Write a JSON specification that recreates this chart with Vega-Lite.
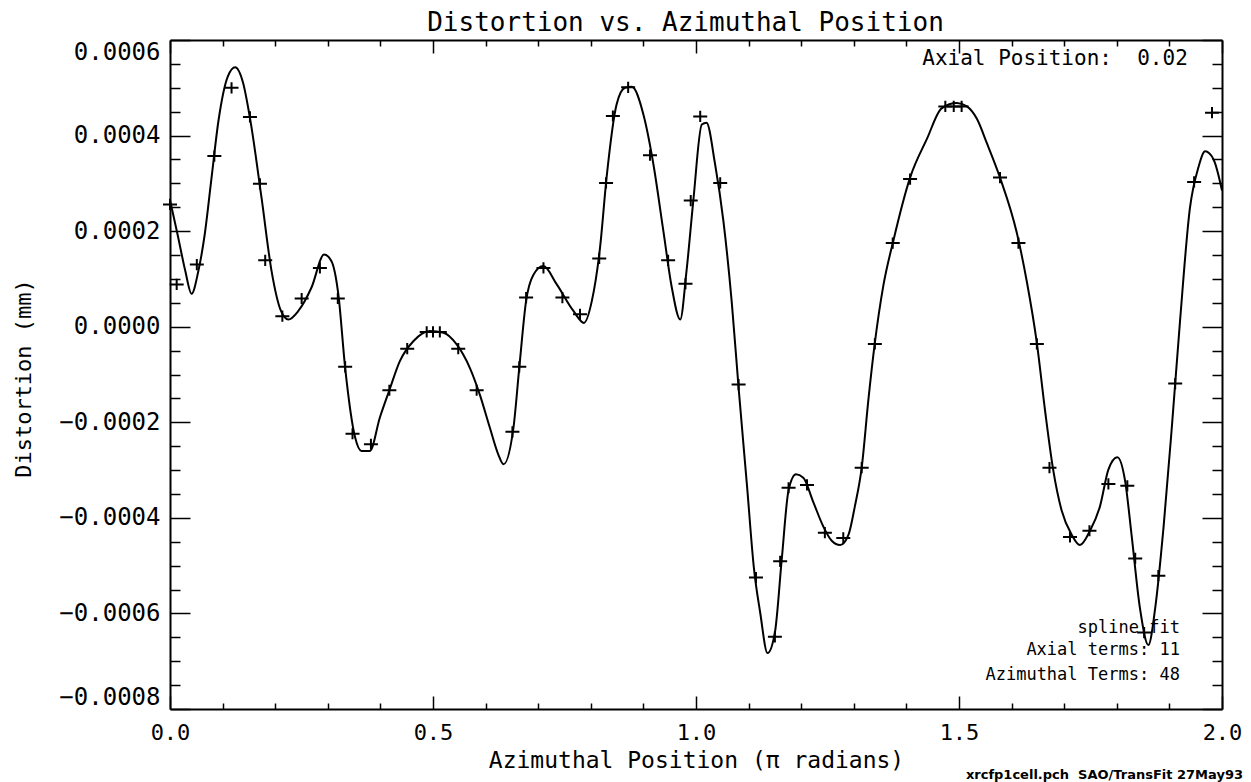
{
  "$schema": "https://vega.github.io/schema/vega-lite/v6.json",
  "width": 1052,
  "height": 669,
  "autosize": {"type": "none"},
  "padding": {"left": 170, "top": 40, "right": 29, "bottom": 73},
  "background": "white",
  "config": {
    "view": {"stroke": null},
    "axis": {
      "grid": false,
      "domainColor": "black",
      "domainWidth": 2,
      "tickColor": "black",
      "tickWidth": 1.5,
      "labelColor": "black",
      "titleColor": "black",
      "labelFont": "DejaVu Sans Mono",
      "titleFont": "DejaVu Sans Mono",
      "titleFontWeight": "normal",
      "labelOverlap": false,
      "labelBound": false
    },
    "text": {"font": "DejaVu Sans Mono", "color": "black"}
  },
  "datasets": {
    "fit": [
      {"x": 0.000, "y": 0.000265}, {"x": 0.015, "y": 0.000190}, {"x": 0.029, "y": 0.000117}, {"x": 0.041, "y": 0.000069},
      {"x": 0.054, "y": 0.000117}, {"x": 0.066, "y": 0.000193}, {"x": 0.079, "y": 0.000312}, {"x": 0.092, "y": 0.000430},
      {"x": 0.110, "y": 0.000524}, {"x": 0.124, "y": 0.000543}, {"x": 0.139, "y": 0.000510}, {"x": 0.152, "y": 0.000437},
      {"x": 0.174, "y": 0.000270}, {"x": 0.193, "y": 0.000117}, {"x": 0.211, "y": 0.000033}, {"x": 0.225, "y": 0.000015},
      {"x": 0.244, "y": 0.000033}, {"x": 0.269, "y": 0.000082}, {"x": 0.293, "y": 0.000151}, {"x": 0.307, "y": 0.000137},
      {"x": 0.320, "y": 0.000068}, {"x": 0.333, "y": -0.000086}, {"x": 0.352, "y": -0.000232}, {"x": 0.364, "y": -0.000260},
      {"x": 0.380, "y": -0.000260}, {"x": 0.399, "y": -0.000190}, {"x": 0.417, "y": -0.000133}, {"x": 0.437, "y": -0.000072},
      {"x": 0.463, "y": -0.000030}, {"x": 0.494, "y": -0.000009}, {"x": 0.520, "y": -0.0000125}, {"x": 0.545, "y": -0.000037},
      {"x": 0.570, "y": -0.000086}, {"x": 0.589, "y": -0.000142}, {"x": 0.608, "y": -0.000211}, {"x": 0.624, "y": -0.000267},
      {"x": 0.634, "y": -0.000288}, {"x": 0.653, "y": -0.000211}, {"x": 0.664, "y": -0.000086}, {"x": 0.677, "y": 0.000054},
      {"x": 0.691, "y": 0.000109}, {"x": 0.710, "y": 0.000127}, {"x": 0.735, "y": 0.000089}, {"x": 0.767, "y": 0.000033},
      {"x": 0.787, "y": 0.000008}, {"x": 0.802, "y": 0.000054}, {"x": 0.8175, "y": 0.000165}, {"x": 0.830, "y": 0.000312},
      {"x": 0.849, "y": 0.000465}, {"x": 0.865, "y": 0.000500}, {"x": 0.878, "y": 0.000502}, {"x": 0.900, "y": 0.000444},
      {"x": 0.919, "y": 0.000340}, {"x": 0.938, "y": 0.000200}, {"x": 0.954, "y": 0.000082}, {"x": 0.970, "y": 0.000015},
      {"x": 0.982, "y": 0.000117}, {"x": 0.995, "y": 0.000265}, {"x": 1.011, "y": 0.000423}, {"x": 1.020, "y": 0.000427},
      {"x": 1.036, "y": 0.000342}, {"x": 1.052, "y": 0.000222}, {"x": 1.068, "y": 0.000051}, {"x": 1.081, "y": -0.000128},
      {"x": 1.097, "y": -0.000333}, {"x": 1.110, "y": -0.000504}, {"x": 1.122, "y": -0.000598}, {"x": 1.136, "y": -0.000683},
      {"x": 1.150, "y": -0.000640}, {"x": 1.163, "y": -0.000487}, {"x": 1.176, "y": -0.000342}, {"x": 1.190, "y": -0.000309},
      {"x": 1.204, "y": -0.000316}, {"x": 1.223, "y": -0.000367}, {"x": 1.242, "y": -0.000418}, {"x": 1.258, "y": -0.000448},
      {"x": 1.274, "y": -0.000457}, {"x": 1.290, "y": -0.000435}, {"x": 1.302, "y": -0.000376}, {"x": 1.315, "y": -0.000295},
      {"x": 1.328, "y": -0.000150}, {"x": 1.340, "y": -0.000034}, {"x": 1.356, "y": 0.000085}, {"x": 1.375, "y": 0.000179},
      {"x": 1.407, "y": 0.000312}, {"x": 1.439, "y": 0.000393}, {"x": 1.467, "y": 0.000457}, {"x": 1.496, "y": 0.000468},
      {"x": 1.515, "y": 0.000461}, {"x": 1.534, "y": 0.000435}, {"x": 1.553, "y": 0.000384}, {"x": 1.578, "y": 0.000312},
      {"x": 1.610, "y": 0.000196}, {"x": 1.629, "y": 0.000094}, {"x": 1.648, "y": -0.000034}, {"x": 1.664, "y": -0.000179},
      {"x": 1.679, "y": -0.000299}, {"x": 1.695, "y": -0.000384}, {"x": 1.714, "y": -0.000435}, {"x": 1.730, "y": -0.000457},
      {"x": 1.749, "y": -0.000427}, {"x": 1.768, "y": -0.000376}, {"x": 1.784, "y": -0.000299}, {"x": 1.801, "y": -0.000273},
      {"x": 1.816, "y": -0.000324}, {"x": 1.828, "y": -0.000435}, {"x": 1.844, "y": -0.000589}, {"x": 1.860, "y": -0.000666},
      {"x": 1.873, "y": -0.000589}, {"x": 1.889, "y": -0.000418}, {"x": 1.905, "y": -0.000205}, {"x": 1.920, "y": 0.000009},
      {"x": 1.939, "y": 0.000248}, {"x": 1.955, "y": 0.000333}, {"x": 1.968, "y": 0.000367}, {"x": 1.984, "y": 0.000350},
      {"x": 2.000, "y": 0.000285}
    ],
    "obs": [
      {"x": 0.000, "y": 0.000256}, {"x": 0.0127, "y": 0.0000885}, {"x": 0.051, "y": 0.000130}, {"x": 0.0843, "y": 0.000357},
      {"x": 0.117, "y": 0.000500}, {"x": 0.152, "y": 0.000439}, {"x": 0.171, "y": 0.000299}, {"x": 0.181, "y": 0.000139},
      {"x": 0.2136, "y": 0.000022}, {"x": 0.2503, "y": 0.000059}, {"x": 0.285, "y": 0.000123}, {"x": 0.319, "y": 0.000059},
      {"x": 0.333, "y": -0.000084}, {"x": 0.347, "y": -0.000224}, {"x": 0.382, "y": -0.000246}, {"x": 0.417, "y": -0.000133},
      {"x": 0.451, "y": -0.000046}, {"x": 0.488, "y": -0.000011}, {"x": 0.500, "y": -0.000011}, {"x": 0.513, "y": -0.000011},
      {"x": 0.548, "y": -0.000046}, {"x": 0.583, "y": -0.000133}, {"x": 0.651, "y": -0.000220}, {"x": 0.664, "y": -0.000084},
      {"x": 0.677, "y": 0.000061}, {"x": 0.710, "y": 0.000123}, {"x": 0.746, "y": 0.000061}, {"x": 0.7795, "y": 0.000026},
      {"x": 0.816, "y": 0.000143}, {"x": 0.829, "y": 0.000301}, {"x": 0.842, "y": 0.000441}, {"x": 0.871, "y": 0.000501},
      {"x": 0.9125, "y": 0.000359}, {"x": 0.947, "y": 0.000139}, {"x": 0.980, "y": 0.000090}, {"x": 0.990, "y": 0.000264},
      {"x": 1.008, "y": 0.000440}, {"x": 1.046, "y": 0.000301}, {"x": 1.081, "y": -0.000121}, {"x": 1.114, "y": -0.000525},
      {"x": 1.150, "y": -0.000649}, {"x": 1.160, "y": -0.000491}, {"x": 1.176, "y": -0.000337}, {"x": 1.211, "y": -0.000331},
      {"x": 1.245, "y": -0.000431}, {"x": 1.280, "y": -0.000442}, {"x": 1.315, "y": -0.000295}, {"x": 1.340, "y": -0.000036},
      {"x": 1.374, "y": 0.000175}, {"x": 1.407, "y": 0.000309}, {"x": 1.474, "y": 0.000461}, {"x": 1.490, "y": 0.000461},
      {"x": 1.505, "y": 0.000461}, {"x": 1.578, "y": 0.000312}, {"x": 1.613, "y": 0.000175}, {"x": 1.648, "y": -0.000036},
      {"x": 1.672, "y": -0.000295}, {"x": 1.711, "y": -0.000440}, {"x": 1.748, "y": -0.000427}, {"x": 1.784, "y": -0.000329},
      {"x": 1.820, "y": -0.000333}, {"x": 1.835, "y": -0.000485}, {"x": 1.852, "y": -0.000640}, {"x": 1.879, "y": -0.000521},
      {"x": 1.911, "y": -0.000119}, {"x": 1.947, "y": 0.000303}, {"x": 1.981, "y": 0.000448}
    ],
    "note": [{}]
  },
  "layer": [
    {
      "data": {"name": "fit"},
      "mark": {"type": "line", "color": "black", "strokeWidth": 2, "interpolate": "monotone"},
      "encoding": {
        "x": {
          "field": "x", "type": "quantitative",
          "scale": {"domain": [0, 2], "nice": false, "zero": false},
          "axis": {
            "orient": "bottom",
            "values": [0, 0.1, 0.2, 0.3, 0.4, 0.5, 0.6, 0.7, 0.8, 0.9, 1.0, 1.1, 1.2, 1.3, 1.4, 1.5, 1.6, 1.7, 1.8, 1.9, 2.0],
            "format": ".1f",
            "labelExpr": "abs(datum.value*2 - round(datum.value*2)) < 0.001 ? datum.label : ''",
            "tickSize": {"condition": {"test": "abs(datum.value*2 - round(datum.value*2)) < 0.001", "value": -13}, "value": -6},
            "labelPadding": 26,
            "labelFontSize": 22,
            "labelFlush": false,
            "title": "Azimuthal Position (π radians)",
            "titleFontSize": 23,
            "titleBaseline": "alphabetic",
            "titleY": 58
          }
        },
        "y": {
          "field": "y", "type": "quantitative",
          "scale": {"domain": [-0.0008, 0.0006], "nice": false, "zero": false},
          "axis": {
            "orient": "left",
            "values": [-0.0008, -0.00075, -0.0007, -0.00065, -0.0006, -0.00055, -0.0005, -0.00045, -0.0004, -0.00035, -0.0003, -0.00025, -0.0002, -0.00015, -0.0001, -0.00005, 0, 0.00005, 0.0001, 0.00015, 0.0002, 0.00025, 0.0003, 0.00035, 0.0004, 0.00045, 0.0005, 0.00055, 0.0006],
            "format": ".4f",
            "labelExpr": "abs(datum.value*5000 - round(datum.value*5000)) < 0.01 ? datum.label : ''",
            "tickSize": {"condition": {"test": "abs(datum.value*5000 - round(datum.value*5000)) < 0.01", "value": -20}, "value": -10},
            "labelPadding": 30,
            "labelFontSize": 24,
            "labelFlush": true,
            "title": "Distortion (mm)",
            "titleFontSize": 22,
            "titleBaseline": "alphabetic",
            "titleX": -140,
            "titleY": 338
          }
        }
      }
    },
    {
      "data": {"name": "obs"},
      "mark": {"type": "point", "shape": "M-1,0H1M0,-0.8V0.8", "size": 196, "filled": false, "color": "black", "strokeWidth": 2, "opacity": 1},
      "encoding": {
        "x": {
          "field": "x", "type": "quantitative",
          "axis": {
            "orient": "top",
            "values": [0, 0.1, 0.2, 0.3, 0.4, 0.5, 0.6, 0.7, 0.8, 0.9, 1.0, 1.1, 1.2, 1.3, 1.4, 1.5, 1.6, 1.7, 1.8, 1.9, 2.0],
            "labels": false,
            "tickSize": {"condition": {"test": "abs(datum.value*2 - round(datum.value*2)) < 0.001", "value": -13}, "value": -6},
            "title": "Distortion vs. Azimuthal Position",
            "titleFontSize": 26,
            "titleBaseline": "alphabetic",
            "titleX": 515,
            "titleY": -10
          }
        },
        "y": {
          "field": "y", "type": "quantitative",
          "axis": {
            "orient": "right",
            "values": [-0.0008, -0.00075, -0.0007, -0.00065, -0.0006, -0.00055, -0.0005, -0.00045, -0.0004, -0.00035, -0.0003, -0.00025, -0.0002, -0.00015, -0.0001, -0.00005, 0, 0.00005, 0.0001, 0.00015, 0.0002, 0.00025, 0.0003, 0.00035, 0.0004, 0.00045, 0.0005, 0.00055, 0.0006],
            "labels": false,
            "tickSize": {"condition": {"test": "abs(datum.value*5000 - round(datum.value*5000)) < 0.01", "value": -20}, "value": -10},
            "title": null
          }
        }
      }
    },
    {
      "data": {"name": "note"},
      "mark": {"type": "text", "text": "Axial Position:\u00a0 0.02", "fontSize": 21, "align": "right", "baseline": "alphabetic"},
      "encoding": {
        "x": {"datum": 1.935, "type": "quantitative", "axis": null},
        "y": {"datum": 0.000548, "type": "quantitative", "axis": null}
      }
    },
    {
      "data": {"name": "note"},
      "mark": {"type": "text", "text": "spline fit", "fontSize": 17, "align": "right", "baseline": "alphabetic"},
      "encoding": {
        "x": {"datum": 1.92, "type": "quantitative", "axis": null},
        "y": {"datum": -0.00064, "type": "quantitative", "axis": null}
      }
    },
    {
      "data": {"name": "note"},
      "mark": {"type": "text", "text": "Axial terms: 11", "fontSize": 17, "align": "right", "baseline": "alphabetic"},
      "encoding": {
        "x": {"datum": 1.92, "type": "quantitative", "axis": null},
        "y": {"datum": -0.000688, "type": "quantitative", "axis": null}
      }
    },
    {
      "data": {"name": "note"},
      "mark": {"type": "text", "text": "Azimuthal Terms: 48", "fontSize": 17, "align": "right", "baseline": "alphabetic"},
      "encoding": {
        "x": {"datum": 1.92, "type": "quantitative", "axis": null},
        "y": {"datum": -0.0007385, "type": "quantitative", "axis": null}
      }
    },
    {
      "data": {"name": "note"},
      "mark": {"type": "text", "text": "xrcfp1cell.pch\u00a0 SAO/TransFit 27May93", "font": "DejaVu Sans", "fontSize": 13, "fontWeight": "bold", "align": "right", "baseline": "alphabetic", "dx": 21},
      "encoding": {
        "x": {"datum": 2.0, "type": "quantitative", "axis": null},
        "y": {"datum": -0.000947, "type": "quantitative", "axis": null}
      }
    }
  ],
  "resolve": {"axis": {"x": "independent", "y": "independent"}}
}
